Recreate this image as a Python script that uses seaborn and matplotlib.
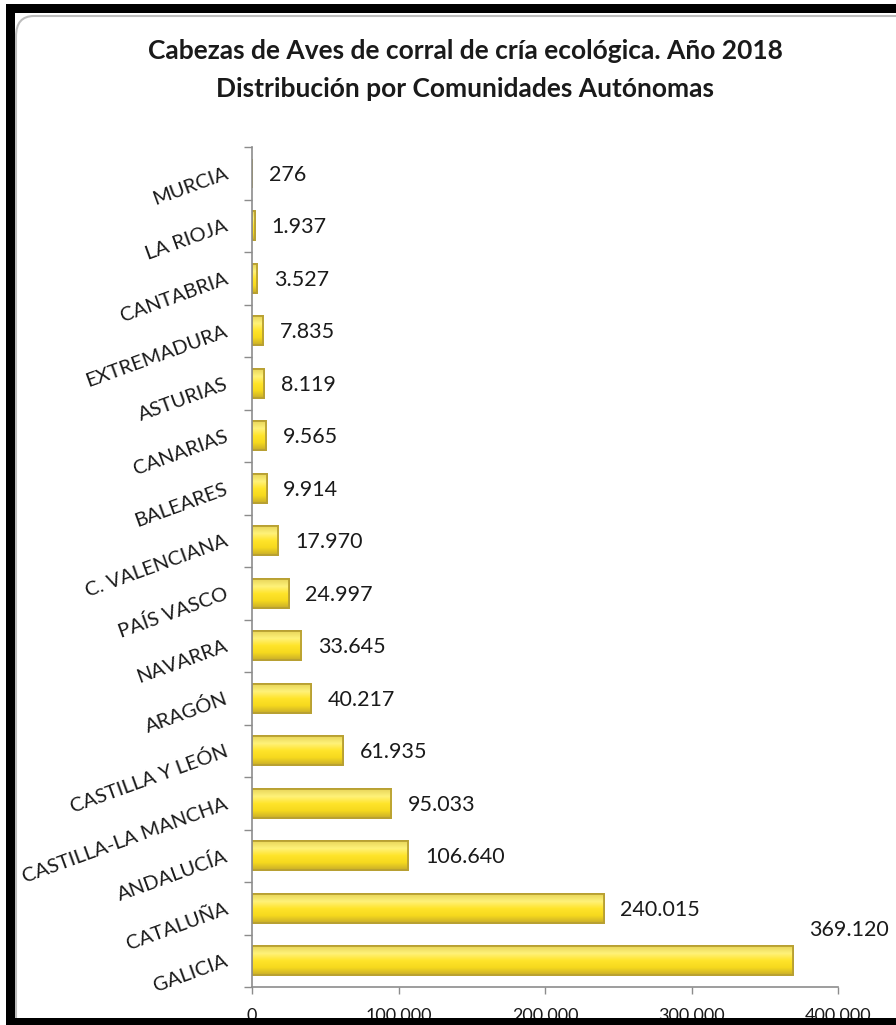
import matplotlib
matplotlib.use("Agg")
import matplotlib.pyplot as plt
import seaborn as sns
import pandas as pd
import numpy as np
from matplotlib.patches import Rectangle, FancyBboxPatch
from matplotlib.ticker import FuncFormatter, FixedLocator
from matplotlib.colors import LinearSegmentedColormap

regions = ["MURCIA", "LA RIOJA", "CANTABRIA", "EXTREMADURA", "ASTURIAS", "CANARIAS",
           "BALEARES", "C. VALENCIANA", "PAÍS VASCO", "NAVARRA", "ARAGÓN",
           "CASTILLA Y LEÓN", "CASTILLA-LA MANCHA", "ANDALUCÍA", "CATALUÑA", "GALICIA"]
heads = [276, 1937, 3527, 7835, 8119, 9565, 9914, 17970, 24997, 33645, 40217,
         61935, 95033, 106640, 240015, 369120]
x_ticks = [0, 100000, 200000, 300000, 400000]
title_lines = ["Cabezas de Aves de corral de cría ecológica. Año 2018",
               "Distribución por Comunidades Autónomas"]

def fmt(v):
    return f"{int(v):,}".replace(",", ".")

sns.set_theme(style="white")
plt.rcParams["font.family"] = ["Lato", "DejaVu Sans"]

df = pd.DataFrame({"region": regions, "heads": heads})

fig = plt.figure(figsize=(8.96, 10.25), dpi=100)
ax = fig.add_axes([252/896, 1 - 987/1025, (838 - 252)/896, (987 - 147)/1025])

sns.barplot(data=df, y="region", x="heads", order=regions, orient="h",
            color="#FBE34A", edgecolor="#B39C2C", linewidth=1.3, width=0.55,
            saturation=1, ax=ax)

ax.set_xlim(0, 400000)
ax.set_ylim(len(regions) - 0.5, -0.5)
ax.set_xlabel("")
ax.set_ylabel("")

# vertical gradient fill inside each bar (top light, middle bright, bottom darker)
grad_cmap = LinearSegmentedColormap.from_list(
    "bar", ["#E8D55A", "#FFF27A", "#FFE42A", "#F6D91E", "#C9AE2A"])
grad = np.linspace(0, 1, 64).reshape(-1, 1)
for p in list(ax.patches):
    x0, y0 = p.get_x(), p.get_y()
    w, h = p.get_width(), p.get_height()
    im = ax.imshow(grad, cmap=grad_cmap, aspect="auto",
                   extent=(x0, x0 + w, y0 + h, y0), origin="upper",
                   interpolation="bilinear", zorder=p.get_zorder() + 0.1)
    im.set_clip_path(p)
    p.set_zorder(p.get_zorder())
    ax.add_patch(Rectangle((x0, y0), w, h, facecolor="none",
                           edgecolor="#B8A032", linewidth=1.3,
                           zorder=p.get_zorder() + 0.2))
ax.set_xlim(0, 400000)
ax.set_ylim(len(regions) - 0.5, -0.5)

ax.xaxis.set_major_locator(FixedLocator(x_ticks))
ax.xaxis.set_major_formatter(FuncFormatter(lambda v, p: fmt(v)))
ax.tick_params(axis="x", length=5, width=1, color="#8c8c8c", direction="out",
               labelsize=13, labelcolor="#1a1a1a", pad=10, bottom=True)

ax.set_yticks(range(len(regions)))
ax.set_yticklabels(regions)
ax.tick_params(axis="y", length=0, labelsize=14.5, labelcolor="#1a1a1a", pad=18)
for lab in ax.get_yticklabels():
    lab.set_rotation(20)
    lab.set_rotation_mode("anchor")
    lab.set_ha("right")
    lab.set_va("center")
ax.set_yticks([i + 0.5 for i in range(-1, len(regions))], minor=True)
ax.tick_params(axis="y", which="minor", length=6, width=1, color="#8c8c8c",
               direction="out", left=True)

for s in ["top", "right"]:
    ax.spines[s].set_visible(False)
for s in ["left", "bottom"]:
    ax.spines[s].set_color("#8c8c8c")
    ax.spines[s].set_linewidth(1.2)

for i, v in enumerate(heads):
    if i == len(heads) - 1:
        ax.annotate(fmt(v), xy=(v, i), xytext=(12, 22), textcoords="offset points",
                    ha="left", va="center", fontsize=15.5, color="#1a1a1a",
                    annotation_clip=False)
    else:
        ax.annotate(fmt(v), xy=(v, i), xytext=(12, -1), textcoords="offset points",
                    ha="left", va="center", fontsize=15.5, color="#1a1a1a")

for k, line in enumerate(title_lines):
    fig.text(465/896, 1 - (51 + 38*k)/1025, line, ha="center", va="center",
             fontsize=19, fontweight="bold", color="#1a1a1a")

# inner rounded panel border
panel = FancyBboxPatch((16/896, -0.05), 1.2, 1 - 16/1025 + 0.05,
                       boxstyle="round,pad=0,rounding_size=0.02",
                       transform=fig.transFigure, facecolor="none",
                       edgecolor="#bdbdbd", linewidth=1.5, zorder=5)
fig.add_artist(panel)

# black frame
frame = [(6/896, 1 - 13/1025, 1, 9/1025),      # top
         (6/896, 0, 9/896, 1 - 4/1025),         # left
         (6/896, 0, 1, 7/1025)]                 # bottom
for (x0, y0, w, h) in frame:
    fig.add_artist(Rectangle((x0, y0), w, h, transform=fig.transFigure,
                             facecolor="black", edgecolor="none", zorder=20))

fig.savefig("out.png", dpi=100, facecolor="white")
